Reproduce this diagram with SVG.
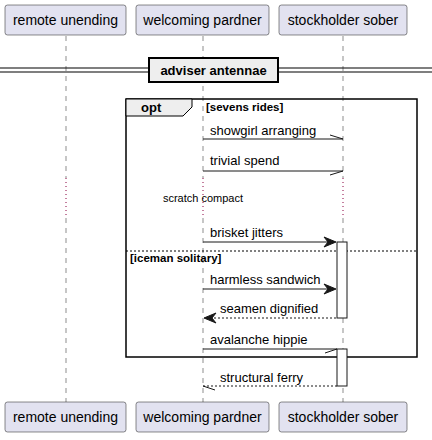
<svg xmlns="http://www.w3.org/2000/svg" width="432" height="440" viewBox="0 0 432 440">
<style>
.part rect{fill:#E2E2F0;stroke:#181818;stroke-width:0.5}
.part text{font-family:"Liberation Sans",Arial,sans-serif;font-size:14px;fill:#000;text-anchor:middle}
.life{stroke:#181818;stroke-width:0.5;stroke-dasharray:5,5;fill:none}
.delay{stroke:#8B0040;stroke-width:1;stroke-dasharray:1,3;fill:none}
.msg{stroke:#181818;stroke-width:1;fill:none}
.ret{stroke:#181818;stroke-width:1;stroke-dasharray:2,2;fill:none}
.lbl{font-family:"Liberation Sans",Arial,sans-serif;font-size:13px;fill:#000}
.small{font-family:"Liberation Sans",Arial,sans-serif;font-size:11px;fill:#000;text-anchor:middle}
.bold{font-family:"Liberation Sans",Arial,sans-serif;font-weight:bold;fill:#000}
.act{fill:#FFFFFF;stroke:#181818;stroke-width:1}
</style>
<g id="lifelines">
<line class="life" x1="66" y1="36" x2="66" y2="178"/>
<line class="delay" x1="66" y1="178" x2="66" y2="218"/>
<line class="life" x1="66" y1="218" x2="66" y2="402"/>
<line class="life" x1="203" y1="36" x2="203" y2="178"/>
<line class="delay" x1="203" y1="178" x2="203" y2="218"/>
<line class="life" x1="203" y1="218" x2="203" y2="402"/>
<line class="life" x1="343" y1="36" x2="343" y2="178"/>
<line class="delay" x1="343" y1="178" x2="343" y2="218"/>
<line class="life" x1="343" y1="218" x2="343" y2="402"/>
</g>
<g id="divider">
<line x1="0" y1="68" x2="432" y2="68" stroke="#000" stroke-width="1.2"/>
<line x1="0" y1="72" x2="432" y2="72" stroke="#000" stroke-width="1.2"/>
<rect x="149" y="58" width="129" height="24" fill="#EEEEEE" stroke="#000" stroke-width="2"/>
<text class="bold" x="213.5" y="75" font-size="13" text-anchor="middle">adviser antennae</text>
</g>
<g id="opt">
<rect x="126" y="99" width="291" height="258" fill="none" stroke="#000" stroke-width="1.5"/>
<polygon points="126,99 192,99 192,107 183,116 126,116" fill="#EEEEEE" stroke="#000" stroke-width="1"/>
<text class="bold" x="141" y="112" font-size="13">opt</text>
<text class="bold" x="206" y="111" font-size="11.5">[sevens rides]</text>
<line x1="126" y1="251" x2="417" y2="251" stroke="#000" stroke-width="1" stroke-dasharray="2,2"/>
<text class="bold" x="130" y="262" font-size="11.5">[iceman solitary]</text>
</g>
<g id="activations">
<rect class="act" x="337" y="242" width="10" height="76"/>
<rect class="act" x="337" y="349" width="10" height="37"/>
</g>
<g id="connectors">
<line class="msg" x1="203" y1="139" x2="343" y2="139"/>
<line class="msg" x1="330" y1="135" x2="343" y2="139"/>
<text class="lbl" x="210" y="135">showgirl arranging</text>
<line class="msg" x1="203" y1="171" x2="343" y2="171"/>
<line class="msg" x1="330" y1="175" x2="343" y2="171"/>
<text class="lbl" x="210" y="165">trivial spend</text>
<text class="small" x="203" y="202">scratch compact</text>
<line class="msg" x1="203" y1="242" x2="334" y2="242"/>
<polygon points="336,242 324,237 328,242 324,247" fill="#181818" stroke="#181818"/>
<text class="lbl" x="210" y="237">brisket jitters</text>
<line class="msg" x1="203" y1="289" x2="334" y2="289"/>
<polygon points="336,289 324,284 328,289 324,294" fill="#181818" stroke="#181818"/>
<text class="lbl" x="210" y="284">harmless sandwich</text>
<line class="ret" x1="206" y1="318" x2="337" y2="318"/>
<polygon points="204,318 216,313 212,318 216,323" fill="#181818" stroke="#181818"/>
<text class="lbl" x="220" y="313">seamen dignified</text>
<line class="msg" x1="203" y1="349" x2="337" y2="349"/>
<line class="msg" x1="325" y1="353" x2="337" y2="349"/>
<text class="lbl" x="210" y="344">avalanche hippie</text>
<line class="ret" x1="203" y1="386" x2="337" y2="386"/>
<line class="msg" x1="203" y1="386" x2="215" y2="390"/>
<text class="lbl" x="220" y="382">structural ferry</text>
</g>
<g id="p1-top" class="part"><rect x="5" y="5" width="121" height="30" rx="2.5"/><text x="65.5" y="25">remote unending</text></g>
<g id="p2-top" class="part"><rect x="136" y="5" width="133" height="30" rx="2.5"/><text x="202.5" y="25">welcoming pardner</text></g>
<g id="p3-top" class="part"><rect x="279" y="5" width="128" height="30" rx="2.5"/><text x="343" y="25">stockholder sober</text></g>
<g id="p1-bottom" class="part"><rect x="5" y="402" width="121" height="30" rx="2.5"/><text x="65.5" y="422">remote unending</text></g>
<g id="p2-bottom" class="part"><rect x="136" y="402" width="133" height="30" rx="2.5"/><text x="202.5" y="422">welcoming pardner</text></g>
<g id="p3-bottom" class="part"><rect x="279" y="402" width="128" height="30" rx="2.5"/><text x="343" y="422">stockholder sober</text></g>
</svg>
